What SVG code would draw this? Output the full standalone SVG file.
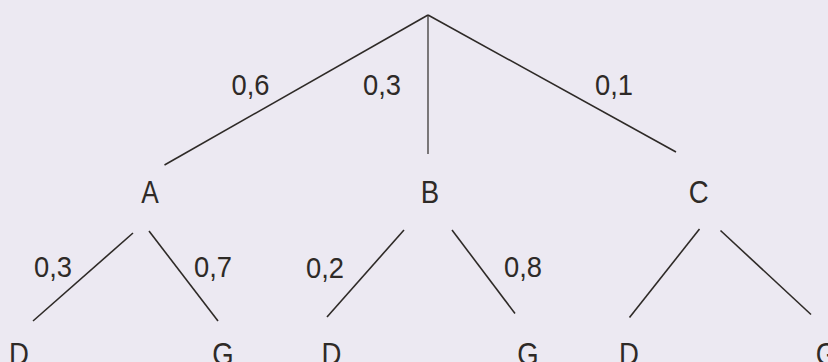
<svg xmlns="http://www.w3.org/2000/svg" width="828" height="362" viewBox="0 0 828 362">
  <style>
    .bg { fill: #ECE9F2; }
    .edge { stroke: #2E2A27; stroke-width: 1.6; fill: none; stroke-linecap: butt; }
    .thin { stroke-width: 1.2; }
    .num { font-family: "Liberation Sans", Arial, sans-serif; font-size: 30px; fill: #2E2A27; }
    .lbl { font-family: "Liberation Sans", Arial, sans-serif; font-size: 32px; fill: #2E2A27; text-anchor: middle; }
  </style>
  <rect class="bg" x="0" y="0" width="828" height="362"/>

  <g id="connectors">
    <line class="edge" x1="428" y1="15" x2="164.5" y2="165"/>
    <line class="edge thin" x1="428" y1="15" x2="428" y2="154"/>
    <line class="edge" x1="428" y1="15" x2="676" y2="152"/>

    <line class="edge" x1="133" y1="233" x2="33" y2="321"/>
    <line class="edge" x1="149" y1="231" x2="218" y2="321"/>
    <line class="edge" x1="404" y1="230" x2="327" y2="317"/>
    <line class="edge" x1="452" y1="230" x2="515" y2="313.5"/>
    <line class="edge" x1="699.5" y1="229" x2="629.5" y2="317.5"/>
    <line class="edge" x1="720.5" y1="230.5" x2="811" y2="314.5"/>
  </g>

  <g id="edge-labels">
    <text class="num" x="231.5" y="94.5" textLength="38" lengthAdjust="spacingAndGlyphs">0,6</text>
    <text class="num" x="363" y="94.5" textLength="38" lengthAdjust="spacingAndGlyphs">0,3</text>
    <text class="num" x="595" y="94.5" textLength="38" lengthAdjust="spacingAndGlyphs">0,1</text>
    <text class="num" x="34" y="277" textLength="38" lengthAdjust="spacingAndGlyphs">0,3</text>
    <text class="num" x="194" y="277" textLength="38" lengthAdjust="spacingAndGlyphs">0,7</text>
    <text class="num" x="306" y="278" textLength="38" lengthAdjust="spacingAndGlyphs">0,2</text>
    <text class="num" x="504" y="277" textLength="38" lengthAdjust="spacingAndGlyphs">0,8</text>
  </g>

  <g id="node-A"><text class="lbl" x="150" y="202.5" textLength="17.5" lengthAdjust="spacingAndGlyphs">A</text></g>
  <g id="node-B"><text class="lbl" x="430" y="202.5" textLength="18.4" lengthAdjust="spacingAndGlyphs">B</text></g>
  <g id="node-C"><text class="lbl" x="698.7" y="202.5" textLength="19.9" lengthAdjust="spacingAndGlyphs">C</text></g>

  <g id="node-AD"><text class="lbl" x="19" y="364.5" textLength="19.9" lengthAdjust="spacingAndGlyphs">D</text></g>
  <g id="node-AG"><text class="lbl" x="223" y="364.5" textLength="21.4" lengthAdjust="spacingAndGlyphs">G</text></g>
  <g id="node-BD"><text class="lbl" x="331.5" y="364.5" textLength="19.9" lengthAdjust="spacingAndGlyphs">D</text></g>
  <g id="node-BG"><text class="lbl" x="528" y="364.5" textLength="21.4" lengthAdjust="spacingAndGlyphs">G</text></g>
  <g id="node-CD"><text class="lbl" x="629" y="364.5" textLength="19.9" lengthAdjust="spacingAndGlyphs">D</text></g>
  <g id="node-CG"><text class="lbl" x="826.5" y="364.5" textLength="21.4" lengthAdjust="spacingAndGlyphs">G</text></g>
</svg>
